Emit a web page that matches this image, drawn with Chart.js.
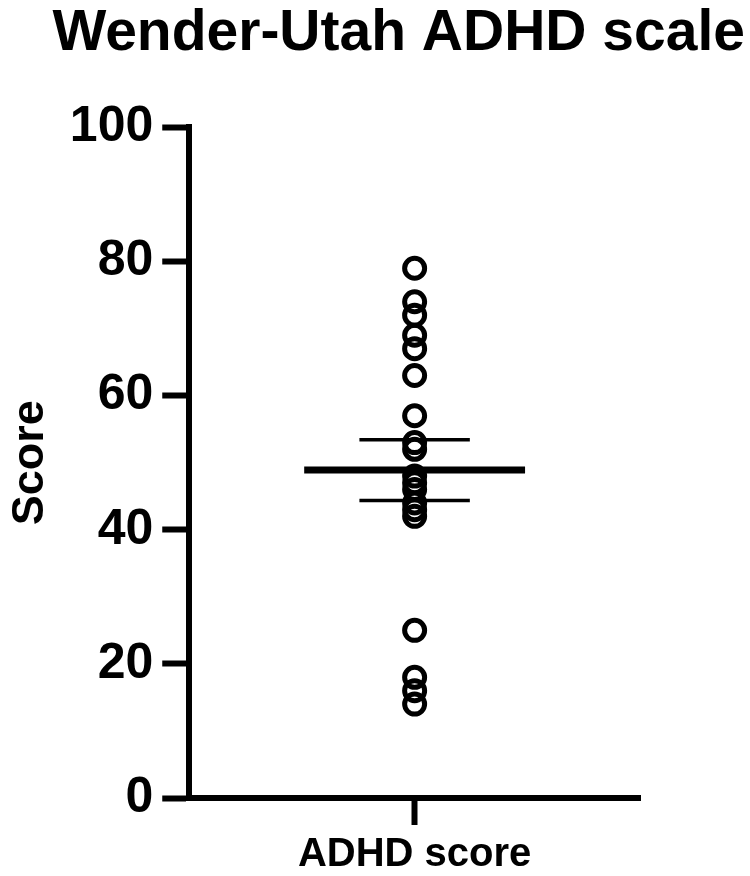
<!DOCTYPE html>
<html lang="en">
<head>
<meta charset="UTF-8">
<title>Wender-Utah ADHD scale</title>
<script src="https://cdn.jsdelivr.net/npm/chart.js"></script>
<style>
  body { margin: 0; background: #fff; }
</style>
</head>
<body>
<canvas id="adhdChart" width="750" height="876"></canvas>
<script>
// values
const groupLabel = 'ADHD score';
const scores = [79, 74, 72, 69, 67, 63, 57, 53, 52, 48, 47, 46, 44, 43, 42, 25, 18, 16, 14];
const yTicks = [0, 20, 40, 60, 80, 100];

const FONT = "'Liberation Sans', Arial, sans-serif";

// mean and SEM of the scores
const n = scores.length;
const mean = scores.reduce((a, b) => a + b, 0) / n;
const sd = Math.sqrt(scores.reduce((a, v) => a + (v - mean) ** 2, 0) / (n - 1));
const sem = sd / Math.sqrt(n);

const groupX = 1;
const meanHalf = 0.49;
const semHalf = 0.245;

function hLine(y, half) {
    return [{ x: groupX - half, y: y }, { x: groupX + half, y: y }];
}

const ctx = document.getElementById('adhdChart').getContext('2d');

new Chart(ctx, {
    type: 'scatter',
    data: {
        datasets: [
            {
                data: scores.map(v => ({ x: groupX, y: v })),
                pointStyle: 'circle',
                pointRadius: 10,
                pointBorderWidth: 5,
                pointBorderColor: '#000',
                pointBackgroundColor: 'rgba(0,0,0,0)',
                showLine: false
            },
            {
                data: hLine(mean, meanHalf),
                showLine: true,
                borderColor: '#000',
                borderWidth: 7,
                pointRadius: 0
            },
            {
                data: hLine(mean + sem, semHalf),
                showLine: true,
                borderColor: '#000',
                borderWidth: 3.5,
                pointRadius: 0
            },
            {
                data: hLine(mean - sem, semHalf),
                showLine: true,
                borderColor: '#000',
                borderWidth: 3.5,
                pointRadius: 0
            }
        ]
    },
    options: {
        responsive: false,
        animation: false,
        layout: { padding: { left: 4, right: 5, top: 0, bottom: -9 } },
        plugins: {
            legend: { display: false },
            tooltip: { enabled: false },
            title: {
                display: true,
                text: 'Wender-Utah ADHD scale',
                align: 'end',
                color: '#000',
                font: { family: FONT, size: 57, weight: 'bold', lineHeight: 1.2 },
                padding: { top: 0, bottom: 59 }
            }
        },
        scales: {
            x: {
                type: 'linear',
                min: 0,
                max: 2,
                afterBuildTicks: axis => { axis.ticks = [{ value: groupX }]; },
                ticks: {
                    color: '#000',
                    padding: 10,
                    font: { family: FONT, size: 40, weight: 'bold', lineHeight: 1.0 },
                    callback: () => groupLabel
                },
                grid: {
                    drawOnChartArea: false,
                    tickLength: 27,
                    tickWidth: 6,
                    tickColor: '#000'
                },
                border: { color: '#000', width: 6 }
            },
            y: {
                min: 0,
                max: 100,
                afterBuildTicks: axis => { axis.ticks = yTicks.map(v => ({ value: v })); },
                ticks: {
                    color: '#000',
                    padding: 9,
                    font: { family: FONT, size: 50, weight: 'bold' }
                },
                grid: {
                    drawOnChartArea: false,
                    tickLength: 27,
                    tickWidth: 6,
                    tickColor: '#000'
                },
                border: { color: '#000', width: 6 },
                title: {
                    display: true,
                    text: 'Score',
                    color: '#000',
                    font: { family: FONT, size: 45, weight: 'bold', lineHeight: 1.2 },
                    padding: { top: 0, bottom: 6 }
                }
            },
            spacer: {
                position: 'right',
                display: true,
                ticks: { display: false },
                grid: { display: false },
                border: { display: false },
                afterFit: scale => { scale.width = 105; }
            }
        }
    }
});
</script>
</body>
</html>
